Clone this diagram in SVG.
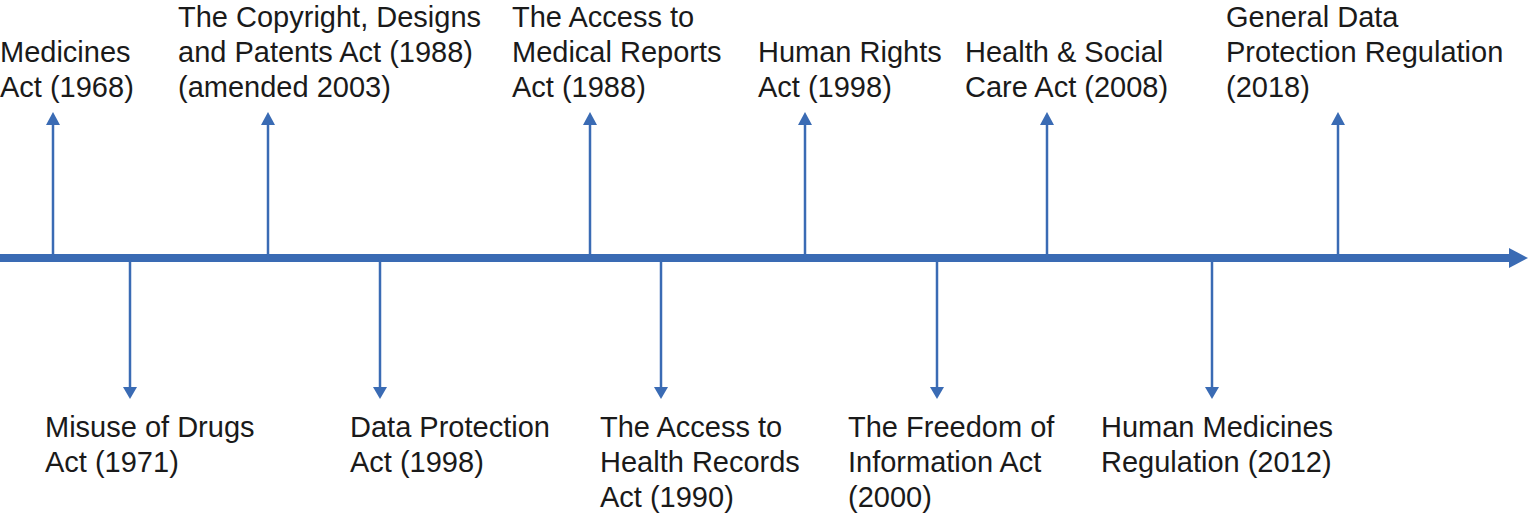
<svg xmlns="http://www.w3.org/2000/svg" width="1529" height="513" viewBox="0 0 1529 513">
<style>
.t{font-family:"Liberation Sans",Arial,Helvetica,sans-serif;font-size:29px;fill:#1a1a1a}
.c{stroke:#3a6bb4;stroke-width:2.5;fill:none}
.h{fill:#3a6bb4}
</style>
<rect width="1529" height="513" fill="#fff"/>
<g id="connectors">
<line x1="0" y1="258" x2="1511" y2="258" stroke="#3a6bb4" stroke-width="8"/>
<polygon class="h" points="1509,248 1528,258 1509,268"/>
<line class="c" x1="53" y1="258" x2="53" y2="124"/><polygon class="h" points="46,125 53,112 60,125"/>
<line class="c" x1="268" y1="258" x2="268" y2="124"/><polygon class="h" points="261,125 268,112 275,125"/>
<line class="c" x1="590" y1="258" x2="590" y2="124"/><polygon class="h" points="583,125 590,112 597,125"/>
<line class="c" x1="805" y1="258" x2="805" y2="124"/><polygon class="h" points="798,125 805,112 812,125"/>
<line class="c" x1="1047" y1="258" x2="1047" y2="124"/><polygon class="h" points="1040,125 1047,112 1054,125"/>
<line class="c" x1="1338" y1="258" x2="1338" y2="124"/><polygon class="h" points="1331,125 1338,112 1345,125"/>
<line class="c" x1="130" y1="258" x2="130" y2="388"/><polygon class="h" points="123,387 130,399 137,387"/>
<line class="c" x1="380" y1="258" x2="380" y2="388"/><polygon class="h" points="373,387 380,399 387,387"/>
<line class="c" x1="661" y1="258" x2="661" y2="388"/><polygon class="h" points="654,387 661,399 668,387"/>
<line class="c" x1="937" y1="258" x2="937" y2="388"/><polygon class="h" points="930,387 937,399 944,387"/>
<line class="c" x1="1212" y1="258" x2="1212" y2="388"/><polygon class="h" points="1205,387 1212,399 1219,387"/>
</g>
<g id="n1"><text class="t" x="0" y="62">Medicines</text><text class="t" x="0" y="97">Act (1968)</text></g>
<g id="n2"><text class="t" x="178" y="27">The Copyright, Designs</text><text class="t" x="178" y="62">and Patents Act (1988)</text><text class="t" x="178" y="97">(amended 2003)</text></g>
<g id="n3"><text class="t" x="512" y="27">The Access to</text><text class="t" x="512" y="62">Medical Reports</text><text class="t" x="512" y="97">Act (1988)</text></g>
<g id="n4"><text class="t" x="758" y="62">Human Rights</text><text class="t" x="758" y="97">Act (1998)</text></g>
<g id="n5"><text class="t" x="965" y="62">Health &amp; Social</text><text class="t" x="965" y="97">Care Act (2008)</text></g>
<g id="n6"><text class="t" x="1226" y="27">General Data</text><text class="t" x="1226" y="62">Protection Regulation</text><text class="t" x="1226" y="97">(2018)</text></g>
<g id="n7"><text class="t" x="45" y="437">Misuse of Drugs</text><text class="t" x="45" y="472">Act (1971)</text></g>
<g id="n8"><text class="t" x="350" y="437">Data Protection</text><text class="t" x="350" y="472">Act (1998)</text></g>
<g id="n9"><text class="t" x="600" y="437">The Access to</text><text class="t" x="600" y="472">Health Records</text><text class="t" x="600" y="507">Act (1990)</text></g>
<g id="n10"><text class="t" x="848" y="437">The Freedom of</text><text class="t" x="848" y="472">Information Act</text><text class="t" x="848" y="507">(2000)</text></g>
<g id="n11"><text class="t" x="1101" y="437">Human Medicines</text><text class="t" x="1101" y="472">Regulation (2012)</text></g>
</svg>
